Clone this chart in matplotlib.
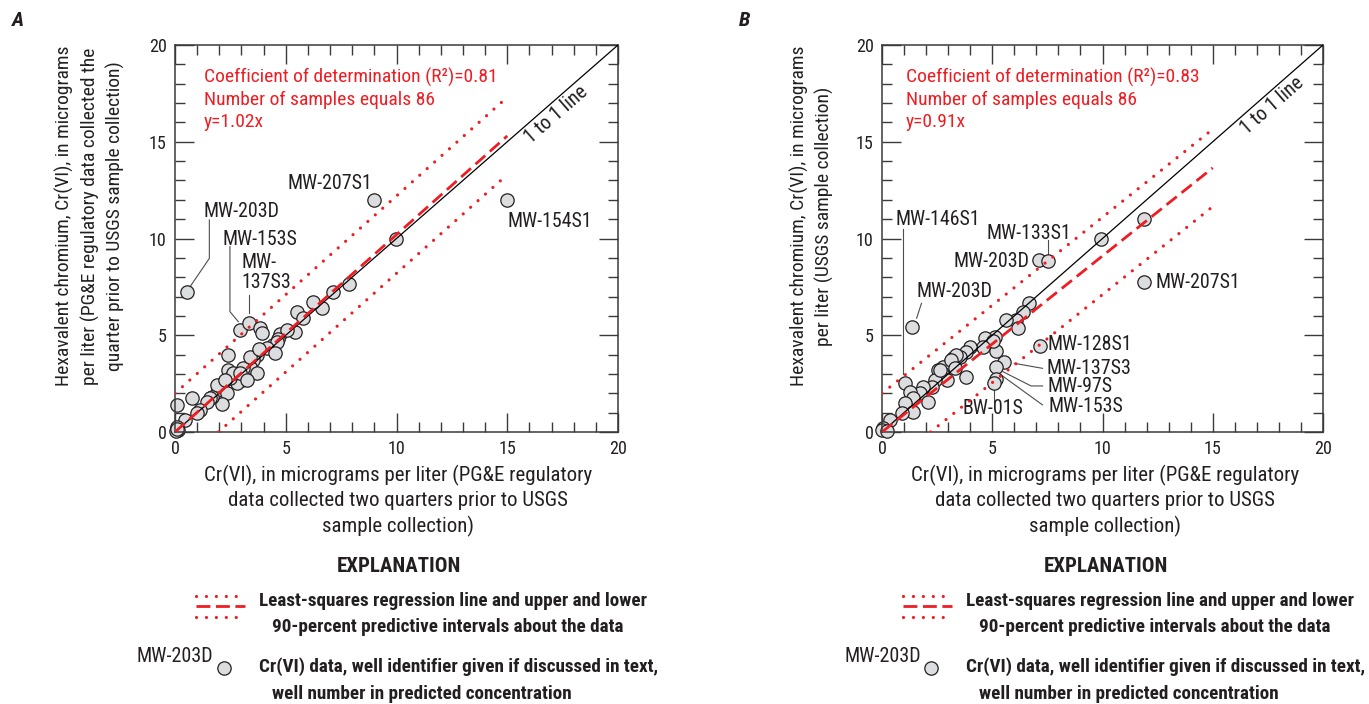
import numpy as np
import matplotlib
matplotlib.use("Agg")
import matplotlib.pyplot as plt

plt.rcParams['font.family'] = ['Roboto Condensed', 'DejaVu Sans']

RED = '#ee1d23'
INK = '#231f20'
FILL = '#dcdddf'

# panel A: PG&E two quarters prior (x) vs PG&E quarter prior (y)
a_x = [0.53, 9.0, 9.98, 15.0, 7.84, 7.12, 6.62, 6.25, 5.49, 5.8, 5.42, 2.93, 3.34, 3.84,
       3.94, 2.41, 4.74, 5.04, 4.67, 4.44, 4.59, 4.14, 3.69, 3.54, 3.39, 3.72, 3.09, 3.01,
       2.78, 2.41, 2.48, 2.63, 2.93, 3.24, 4.51, 3.39, 3.8, 1.96, 1.88, 2.33, 2.26, 2.11,
       1.66, 1.58, 1.43, 1.13, 0.98, 0.75, 0.08, 0.45, 0.08, 0.15, 0.05, 0.1]
a_y = [7.22, 12.0, 10.0, 12.0, 7.63, 7.24, 6.43, 6.74, 6.22, 5.9, 5.17, 5.27, 5.65, 5.36,
       5.13, 3.96, 5.05, 5.27, 4.81, 4.5, 4.67, 4.35, 3.98, 3.72, 3.38, 3.05, 3.29, 2.69,
       2.55, 3.2, 2.77, 3.03, 3.03, 2.69, 4.07, 3.89, 4.3, 2.17, 2.45, 2.0, 2.69, 1.45,
       1.82, 1.74, 1.57, 1.14, 1.0, 1.74, 1.4, 0.62, 0.28, 0.1, 0.05, 0.15]

# panel B: PG&E two quarters prior (x) vs USGS (y)
b_x = [11.87, 9.92, 11.87, 7.13, 7.54, 1.34, 1.04, 7.15, 5.55, 5.16, 5.15, 5.1, 5.16, 6.66,
       6.39, 6.09, 5.64, 6.17, 5.11, 4.66, 5.03, 4.59, 3.98, 3.83, 3.53, 3.23, 3.08, 2.77,
       2.55, 2.7, 2.93, 3.83, 2.4, 2.25, 1.87, 1.72, 1.27, 1.42, 1.04, 2.09, 1.42, 0.89,
       0.36, 0.06, 0.0, 0.21, 3.37, 3.15, 2.62, 3.3]
b_y = [11.0, 10.0, 7.73, 8.89, 8.84, 5.44, 2.55, 4.44, 3.63, 3.34, 2.75, 2.52, 4.2, 6.65,
       6.22, 5.79, 5.79, 5.36, 4.93, 4.84, 4.7, 4.41, 4.41, 4.15, 3.89, 3.8, 3.55, 3.38,
       3.2, 3.03, 2.69, 2.86, 2.69, 2.34, 2.34, 2.0, 2.08, 1.74, 1.48, 1.57, 1.05, 0.96,
       0.62, 0.19, 0.1, 0.03, 3.98, 3.72, 3.2, 3.3]

a_slope, b_slope = 1.02, 0.91
a_pi, b_pi = 2.0, 2.0
a_stats = ['Coefficient of determination (R\u00b2)=0.81', 'Number of samples equals 86', 'y=1.02x']
b_stats = ['Coefficient of determination (R\u00b2)=0.83', 'Number of samples equals 86', 'y=0.91x']

# well labels: text, (x, y), alignment, leader line vertices
a_labels = [
    ('MW-207S1', (7.0, 12.85), 'center', []),
    ('MW-203D', (3.01, 11.38), 'center', [(1.55, 10.96), (1.55, 8.97), (0.68, 7.51)]),
    ('MW-153S', (3.84, 9.96), 'center', [(2.48, 9.58), (2.48, 6.22), (2.86, 5.70)]),
    ('MW-\n137S3', (3.01, 8.23), 'left', [(3.34, 7.08), (3.34, 6.13)]),
    ('MW-154S1', (14.99, 10.87), 'left', []),
]
b_labels = [
    ('MW-146S1', (0.59, 10.96), 'left', [(0.96, 10.5), (0.96, 3.0)]),
    ('MW-133S1', (4.74, 10.27), 'left', [(7.54, 9.92), (7.54, 9.2)]),
    ('MW-203D', (6.7, 8.8), 'right', []),
    ('MW-203D', (1.57, 7.25), 'left', [(1.79, 6.65), (1.57, 5.88)]),
    ('MW-207S1', (12.4, 7.74), 'left', []),
    ('MW-128S1', (7.51, 4.5), 'left', []),
    ('MW-137S3', (7.44, 3.29), 'left', [(6.0, 3.55), (7.28, 3.29)]),
    ('MW-97S', (7.51, 2.34), 'left', [(5.48, 3.12), (6.76, 2.38), (7.28, 2.38)]),
    ('MW-153S', (7.55, 1.31), 'left', [(5.40, 2.95), (7.28, 1.40)]),
    ('BW-01S', (5.03, 1.22), 'center', [(5.06, 2.2), (5.06, 1.57)]),
]

DOT = (0, (0.01, 3.1))
DASH = (0, (4.7, 2.2))
FS_TICK = 13
FS_LAB = 14.3
FS_AX = 14
FS_EXP = 13.8


def draw_panel(ax, xs, ys, slope, pi, stats, labels, stat_x, one_pos):
    ax.set_xlim(0, 20)
    ax.set_ylim(0, 20)
    ax.plot([0, 20], [0, 20], color='black', lw=0.9, zorder=3)
    xr = np.array([0, 15])
    ax.plot(xr, slope * xr, color=RED, lw=2.0, ls=DASH, zorder=4)
    ax.plot(xr, slope * xr + pi, color=RED, lw=2.3, ls=DOT, dash_capstyle='round', zorder=4)
    x0 = pi / slope
    xl = np.array([x0, 15])
    ax.plot(xl, slope * xl - pi, color=RED, lw=2.3, ls=DOT, dash_capstyle='round', zorder=4)
    ax.plot(xs, ys, 'o', ms=9.6, mfc=FILL, mec=INK, mew=0.9, ls='none', zorder=2, clip_on=False)

    for i, s in enumerate(stats):
        ax.text(stat_x, 18.35 - 1.17 * i, s, color=RED, fontsize=14, va='center', ha='left')
    ang = np.degrees(np.arctan(387 / 443))
    ax.text(one_pos[0], one_pos[1], '1 to 1 line', rotation=ang, rotation_mode='anchor',
            ha='center', va='center', fontsize=FS_LAB, color=INK)

    for txt, (tx, ty), ha, leader in labels:
        ax.text(tx, ty, txt, ha=ha, va='center', fontsize=FS_LAB, color=INK, linespacing=1.1)
        if leader:
            lx, ly = zip(*leader)
            ax.plot(lx, ly, color='#4d4d4f', lw=0.8, zorder=1)

    ax.set_xticks([0, 5, 10, 15, 20])
    ax.set_yticks([0, 5, 10, 15, 20])
    ax.set_xticks(np.arange(0, 21, 1), minor=True)
    ax.set_yticks(np.arange(0, 21, 1), minor=True)
    ax.tick_params(which='both', direction='in', top=True, right=True, width=1.0, color='#3a3a3a',
                   labelsize=FS_TICK, labelcolor=INK)
    ax.tick_params(which='major', length=13.7)
    ax.tick_params(which='minor', length=7.2)
    ax.tick_params(axis='x', pad=6)
    ax.tick_params(axis='y', pad=6)
    for sp in ax.spines.values():
        sp.set_color('#3a3a3a')
        sp.set_linewidth(1.1)


fig = plt.figure(figsize=(13.69, 7.04), dpi=100)
W, H = 1369, 704
ax_a = fig.add_axes([175 / W, 1 - 432 / H, 443 / W, 387 / H])
ax_b = fig.add_axes([882 / W, 1 - 432 / H, 441 / W, 387 / H])

draw_panel(ax_a, a_x, a_y, a_slope, a_pi, a_stats, a_labels, 1.31, (17.22, 16.38))
draw_panel(ax_b, b_x, b_y, b_slope, b_pi, b_stats, b_labels, 1.07, (17.68, 16.85))

# overlay in pixel coordinates for labels and explanation
ov = fig.add_axes([0, 0, 1, 1], zorder=-1)
ov.set_xlim(0, W)
ov.set_ylim(H, 0)
ov.axis('off')

ov.text(18, 21, 'A', fontsize=15, fontweight='bold', style='italic', ha='center', va='center', color=INK)
ov.text(745, 21, 'B', fontsize=15, fontweight='bold', style='italic', ha='center', va='center', color=INK)

ov.text(90, 216, 'Hexavalent chromium, Cr(VI), in micrograms\nper liter (PG&E regulatory data collected the\n'
        'quarter prior to USGS sample collection)', rotation=90, ha='center', va='center',
        multialignment='center', fontsize=FS_AX, color=INK, linespacing=1.4)
ov.text(812, 216, 'Hexavalent chromium, Cr(VI), in micrograms\nper liter (USGS sample collection)',
        rotation=90, ha='center', va='center', multialignment='center', fontsize=FS_AX,
        color=INK, linespacing=1.4)

xlab = 'Cr(VI), in micrograms per liter (PG&E regulatory\ndata collected two quarters prior to USGS\nsample collection)'
for cx in (398, 1105):
    ov.text(cx, 501, xlab, ha='center', va='center', multialignment='center', fontsize=15,
            color=INK, linespacing=1.35)

for dx in (0, 707):
    ov.text(399 + dx, 567, 'EXPLANATION', ha='center', va='center', fontsize=15, fontweight='bold', color=INK)
    ov.plot([196 + dx, 245 + dx], [596, 596], color=RED, lw=2.3, ls=DOT, dash_capstyle='round')
    ov.plot([196 + dx, 245 + dx], [606, 606], color=RED, lw=2.0, ls=(0, (5.0, 2.0)))
    ov.plot([196 + dx, 245 + dx], [617, 617], color=RED, lw=2.3, ls=DOT, dash_capstyle='round')
    ov.text(259 + dx, 601, 'Least-squares regression line and upper and lower', ha='left', va='center',
            fontsize=FS_EXP, fontweight='bold', color=INK)
    ov.text(272 + dx, 627, '90-percent predictive intervals about the data', ha='left', va='center',
            fontsize=FS_EXP, fontweight='bold', color=INK)
    ov.text(137 + dx, 656, 'MW-203D', ha='left', va='center', fontsize=14.5, color=INK)
    ov.plot([224 + dx], [668], 'o', ms=9.6, mfc=FILL, mec=INK, mew=0.9)
    ov.text(259 + dx, 667, 'Cr(VI) data, well identifier given if discussed in text,', ha='left', va='center',
            fontsize=FS_EXP, fontweight='bold', color=INK)
    ov.text(272 + dx, 694, 'well number in predicted concentration', ha='left', va='center',
            fontsize=FS_EXP, fontweight='bold', color=INK)

fig.savefig('out.png', dpi=100)
